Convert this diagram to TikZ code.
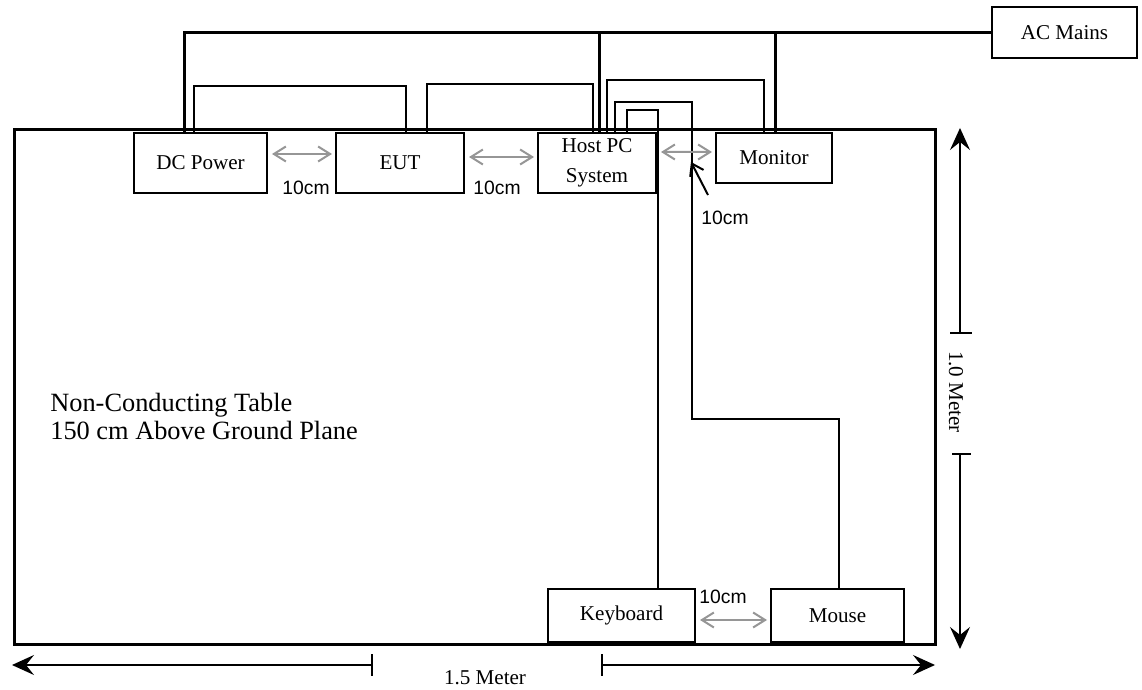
\documentclass[tikz,border=0pt]{standalone}
\usepackage{fontspec}
\setmainfont{Liberation Serif}
\setsansfont{Liberation Sans}
\usepackage{tikz}
\usetikzlibrary{arrows.meta, positioning}
\definecolor{gapGray}{RGB}{150,150,150}

\begin{document}
\begin{tikzpicture}[
  x=0.2mm, y=-0.2mm,
  box/.style={
    rectangle, draw=black, line width=0.4mm, fill=white,
    inner sep=0pt, font=\fontsize{12}{14}\selectfont
  },
  cable/.style={line width=0.4mm, black},
  mains/.style={line width=0.6mm, black},
  gap/.style={{Straight Barb[length=2.4mm,width=3mm]}-{Straight Barb[length=2.4mm,width=3mm]},
    line width=0.4mm, gapGray, shorten <=0.8mm, shorten >=0.6mm},
  gaplbl/.style={font=\sffamily\fontsize{11}{13}\selectfont},
  dimarr/.style={-{Stealth[length=4.4mm,width=4mm,inset=1.6mm]}, line width=0.3mm, black},
  dimtick/.style={line width=0.3mm, black}
]
  \useasboundingbox (0,0) rectangle (1142,690);

  % table
  \draw[line width=0.6mm] (14,130) rectangle (935,644);
  \node[anchor=base west, align=left, inner sep=0pt, font=\fontsize{15}{16}\selectfont] (tbl)
    at (50,440) {Non-Conducting Table\\150 cm Above Ground Plane};

  \node[box, minimum width=26.6mm, minimum height=12mm] (dc) at (200.5,163) {DC Power};
  \node[box, minimum width=25.6mm, minimum height=12mm, right=13.4mm of dc] (eut)
    {EUT\hspace{26pt}};
  \node[box, minimum width=23.6mm, minimum height=12mm, right=14.4mm of eut,
    align=center, font=\fontsize{12}{17}\selectfont] (host) {Host PC\\System};
  \node[box, minimum width=23.2mm, minimum height=10mm] (mon) at (774,158) {Monitor};
  \node[box, minimum width=29.4mm, minimum height=10.6mm] (kb) at (621.5,615.5) {Keyboard};
  \node[box, minimum width=26.6mm, minimum height=10.6mm, right=14.8mm of kb] (mouse)
    {Mouse\hspace{18pt}};
  \node[box, minimum width=29mm, minimum height=10.2mm] (ac) at (1064.5,32.5) {AC Mains};

  % mains
  \draw[mains] (ac.west) -| ([xshift=-3.3mm]dc.north);
  \draw[mains] ([xshift=0.4mm]host.north) -- ++(0,-101);
  \draw[mains] ([xshift=0.2mm]mon.north) -- ++(0,-101);

  % cables
  \draw[cable] ([xshift=-1.3mm]dc.north) -- ++(0,-46) -| ([xshift=1.2mm]eut.north);
  \draw[cable] ([xshift=5.4mm]eut.north) -- ++(0,-48) -| ([xshift=-0.8mm]host.north);
  \draw[cable] ([xshift=2mm]host.north) -- ++(0,-52) -| ([xshift=-2mm]mon.north);
  \draw[cable] ([xshift=6mm]host.north) -- ++(0,-22) -| ([xshift=7.3mm]kb.north);
  \draw[cable] ([xshift=3.6mm]host.north) -- ++(0,-30) -- ++(77,0) -- ++(0,317)
    -| ([xshift=0.3mm]mouse.north);

  % 10cm spacing
  \draw[gap] ([yshift=1.8mm]dc.east) -- ([yshift=1.8mm]eut.west);
  \draw[gap] ([yshift=1.2mm]eut.east) -- ([yshift=1.2mm]host.west);
  \draw[gap] ([yshift=2.2mm]host.east) -- ([yshift=1.2mm]mon.west);
  \draw[gap] ([yshift=-0.9mm]kb.east) -- ([yshift=-0.9mm]mouse.west);

  \node[gaplbl] (d1) at (306,188) {10cm};
  \node[gaplbl] (d2) at (497,188) {10cm};
  \node[gaplbl] (d3) at (725,218) {10cm};
  \node[gaplbl] (d4) at (723,597) {10cm};

  \coordinate (ptail) at (708,195);
  \coordinate (ptip) at (691,162);
  \draw[-{Straight Barb[length=2.2mm,width=3mm]}, line width=0.4mm] (ptail) -- (ptip);

  % dimensions
  \coordinate (wL) at (12,665);
  \coordinate (wLt) at (372,665);
  \coordinate (wRt) at (602,665);
  \coordinate (wR) at (935,665);
  \draw[dimarr] (wLt) -- (wL);
  \draw[dimarr] (wRt) -- (wR);
  \draw[dimtick] (wLt) ++(0,-11) -- ++(0,22);
  \draw[dimtick] (wRt) ++(0,-11) -- ++(0,22);
  \node[font=\fontsize{12}{14}\selectfont] (wlbl) at (485,678) {1.5 Meter};

  \coordinate (hT) at (960,128);
  \coordinate (hTt) at (960,333);
  \coordinate (hBt) at (960,454);
  \coordinate (hB) at (960,649);
  \draw[dimarr] (hTt) -- (hT);
  \draw[dimarr] (hBt) -- (hB);
  \draw[dimtick] (hTt) ++(-10,0) -- ++(22,0);
  \draw[dimtick] (hBt) ++(-8,0) -- ++(19,0);
  \node[rotate=-90, font=\fontsize{12}{14}\selectfont] (hlbl) at (956,392) {1.0 Meter};
\end{tikzpicture}
\end{document}
